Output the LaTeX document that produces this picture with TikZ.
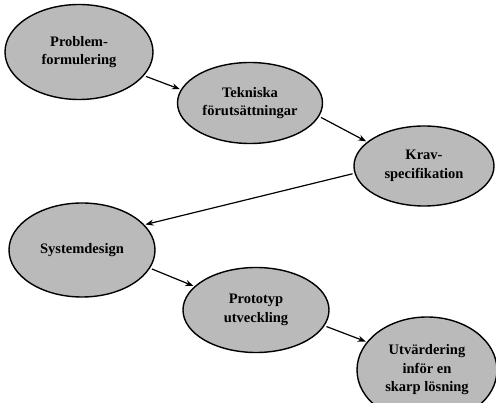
\documentclass[tikz,border=0pt]{standalone}
\usepackage{fontspec}
\setmainfont{Liberation Serif}
\usetikzlibrary{shapes.geometric,arrows.meta}
\definecolor{phasefill}{gray}{0.73}
\begin{document}
\begin{tikzpicture}[x=1pt,y=-1pt,
  phase/.style={ellipse,draw=black,line width=1.4pt,fill=phasefill,
    inner sep=0pt,align=center,font=\fontsize{14.5}{18.5}\selectfont\bfseries},
  flow/.style={line width=1.2pt,-{Stealth[length=8pt,width=6pt]},
    shorten <=2pt,shorten >=1pt}]
\useasboundingbox (0,0) rectangle (496,403);

% project phases
\node[phase,minimum width=148pt,minimum height=95pt] (prob) at (79,52)
  {Problem-\\formulering};
\node[phase,minimum width=145pt,minimum height=81pt] (tek) at (250,103)
  {Tekniska\\förutsättningar};
\node[phase,minimum width=140pt,minimum height=80pt] (krav) at (424,166)
  {Krav-\\specifikation};
\node[phase,minimum width=146pt,minimum height=94pt] (sys) at (82,250)
  {Systemdesign};
\node[phase,minimum width=146pt,minimum height=85pt] (proto) at (256,310)
  {Prototyp\\utveckling};
\node[phase,minimum width=140pt,minimum height=106pt] (utv) at (427,370)
  {Utvärdering\\inför en\\skarp lösning};

% flow between phases
\draw[flow] (prob.-20) -- (tek.169);
\draw[flow] (tek.-11) -- (krav.157);
\draw[flow] (krav.186) -- (sys.22);
\draw[flow] (sys.-15) -- (proto.159);
\draw[flow] (proto.-13) -- (utv.155);
\end{tikzpicture}
\end{document}
